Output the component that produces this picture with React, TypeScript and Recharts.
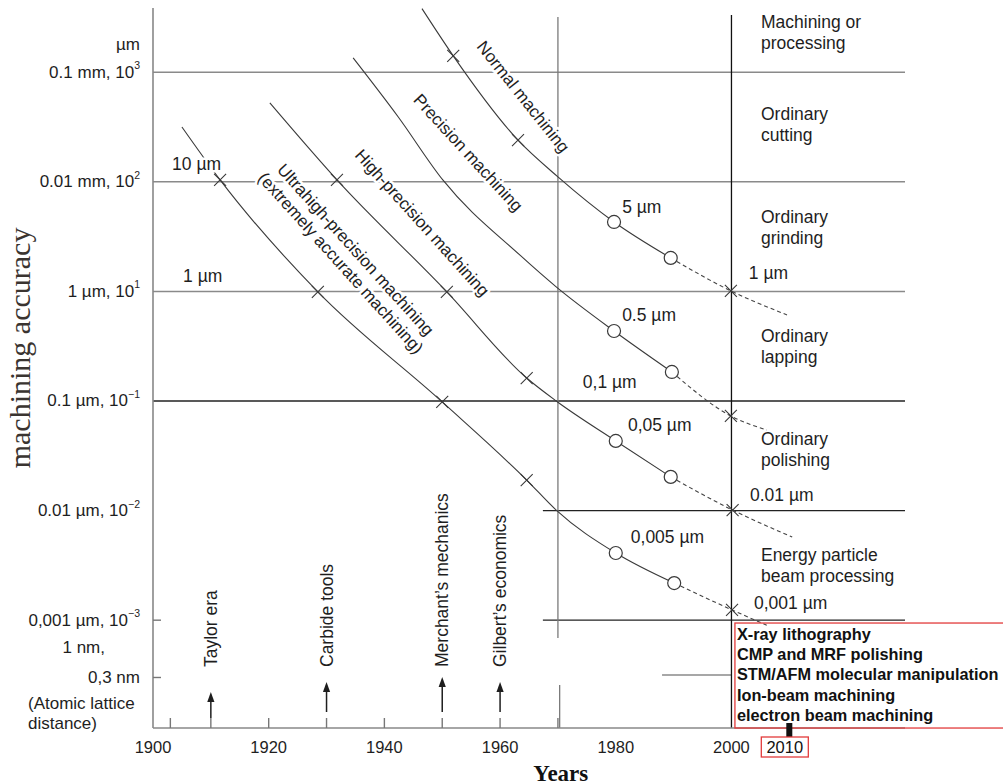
import React from 'react';
import { LineChart, Line, XAxis, YAxis, ReferenceLine, ReferenceDot } from 'recharts';

const SANS = '"Liberation Sans", Arial, Helvetica, sans-serif';
const SERIF = '"Liberation Serif", "Times New Roman", Times, serif';
const INK = '#1e1e1e';
const GREY = '#8a8a8a';
const CURVE = '#3a3a3a';
const RED = '#e23b3b';

// ---- axes ----
const yearDomain = [1900, 2030];
const accDomain = [0.0001038, 385.3];
const xTickValues = [1900, 1903, 1910, 1920, 1930, 1940, 1950, 1960, 1970, 1980, 2000, 2010];
const xLabelYears = [1900, 1920, 1940, 1960, 1980, 2000];
const xMinorTicks = [1903, 1910, 1920, 1930, 1940, 1950, 1960, 1970];
const highlightYear = 2010;
const yTickValues = [100, 10, 1, 0.1, 0.01, 0.001, 0.0003];
const yTickLabels = ['0.1 mm, 10', '0.01 mm, 10', '1 µm, 10', '0.1 µm, 10', '0.01 µm, 10', '0,001 µm, 10', '0,3 nm'];
const yTickExponents = ['3', '2', '1', '−1', '−2', '−3', ''];

// ---- curves (year, accuracy in µm) ----
const normalYears = [1946.5, 1951.9, 1963.1, 1970.0, 1979.7, 1989.5];
const normalAccuracy = [380, 141, 24.0, 11.1, 4.3, 2.02];
const normalMarks = ['', 'x', 'x', '', 'o', 'o'];
const normalTrendYears = [1989.5, 1999.9, 2009.6];
const normalTrendAccuracy = [2.02, 1.01, 0.61];
const normalTrendMarks = ['', 'x', ''];

const precisionYears = [1934.6, 1942.4, 1950.1, 1963.4, 1969.7, 1979.7, 1989.7];
const precisionAccuracy = [135, 39.0, 10.4, 2.15, 1.1, 0.435, 0.184];
const precisionMarks = ['', '', '', '', '', 'o', 'o'];
const precisionTrendYears = [1989.7, 1999.9, 2006.1];
const precisionTrendAccuracy = [0.184, 0.073, 0.0543];
const precisionTrendMarks = ['', 'x', ''];

const highYears = [1920.2, 1931.8, 1950.8, 1964.6, 1969.7, 1980.0, 1989.5];
const highAccuracy = [52.4, 10.4, 0.99, 0.162, 0.1, 0.0432, 0.0203];
const highMarks = ['', 'x', 'x', 'x', '', 'o', 'o'];
const highTrendYears = [1989.5, 2000.2, 2010.5];
const highTrendAccuracy = [0.0203, 0.0101, 0.00574];
const highTrendMarks = ['', 'x', ''];

const ultraYears = [1905.0, 1911.6, 1928.5, 1950.0, 1964.6, 1969.7, 1980.0, 1990.1];
const ultraAccuracy = [31.6, 10.4, 0.99, 0.098, 0.019, 0.0101, 0.0041, 0.00218];
const ultraMarks = ['', 'x', 'x', 'x', 'x', '', 'o', 'o'];
const ultraTrendYears = [1990.1, 2000.1, 2006.1];
const ultraTrendAccuracy = [0.00218, 0.00124, 0.0009];
const ultraTrendMarks = ['', 'x', ''];

// ---- annotations ----
const curveLabelText = [
  ['Normal machining'],
  ['Precision machining'],
  ['High-precision machining'],
  ['Ultrahigh-precision machining', '(extremely accurate machining)'],
];
const curveLabelYears = [1963.96, 1954.45, 1946.5, 1933.7];
const curveLabelDecades = [1.774, 1.263, 0.624, 0.318];
const curveLabelAngles = [51.5, 47.5, 48, 48];

const valueLabelText = ['5 µm', '0.5 µm', '0,1 µm', '0,05 µm', '0,005 µm', '1 µm', '0.01 µm', '0,001 µm', '10 µm', '1 µm'];
const valueLabelYears = [1981.1, 1981.1, 1974.3, 1982.1, 1982.6, 2003.0, 2003.2, 2003.9, 1903.3, 1905.2];
const valueLabelDecades = [0.77, -0.215, -0.827, -1.219, -2.241, 0.168, -1.858, -2.843, 1.162, 0.141];

const regionText = [
  ['Machining or', 'processing'],
  ['Ordinary', 'cutting'],
  ['Ordinary', 'grinding'],
  ['Ordinary', 'lapping'],
  ['Ordinary', 'polishing'],
  ['Energy particle', 'beam processing'],
];
const regionYear = 2005.1;
const regionDecades = [2.458, 1.619, 0.679, -0.407, -1.347, -2.405];

const eventYears = [1910, 1930, 1950, 1960];
const eventNames = ['Taylor era', 'Carbide tools', 'Merchant’s mechanics', 'Gilbert’s economics'];
const eventArrowTip = [36, 46, 51, 46];
const eventArrowBase = [10, 16, 16, 16];

const techLines = ['X-ray lithography', 'CMP and MRF polishing', 'STM/AFM molecular manipulation', 'Ion-beam machining', 'electron beam machining'];
const techBoxYear = 2000.6;
const techBoxDecade = -3.026;

const yTitleYear = 1877.0;
const yTitleDecade = -0.516;
const xTitleYear = 1970.5;

const series = (ys: number[], vs: number[], ms: string[]) =>
  ys.map((year, i) => ({ year, acc: vs[i], mark: ms[i] }));

const solidCurves = [
  series(normalYears, normalAccuracy, normalMarks),
  series(precisionYears, precisionAccuracy, precisionMarks),
  series(highYears, highAccuracy, highMarks),
  series(ultraYears, ultraAccuracy, ultraMarks),
];
const trendCurves = [
  series(normalTrendYears, normalTrendAccuracy, normalTrendMarks),
  series(precisionTrendYears, precisionTrendAccuracy, precisionTrendMarks),
  series(highTrendYears, highTrendAccuracy, highTrendMarks),
  series(ultraTrendYears, ultraTrendAccuracy, ultraTrendMarks),
];

const dec = (d: number) => Math.pow(10, d);

const halo = { stroke: '#fff', strokeWidth: 5, paintOrder: 'stroke' as any, strokeLinejoin: 'round' as any };
const annText = { fontFamily: SANS, fontSize: 17.5, fill: INK };
const yTickText = { fontFamily: SANS, fontSize: 17, fill: INK };
const xTickText = { fontFamily: SANS, fontSize: 16.5, fill: INK };
const curveText = { fontFamily: SANS, fontSize: 17, fill: INK };

const renderMark = (props: any) => {
  const { cx, cy, payload, index } = props;
  const key = `mk-${index}`;
  if (cx == null || cy == null || !payload) return <g key={key} />;
  if (payload.mark === 'x') {
    const s = 6;
    return (
      <path
        key={key}
        d={`M${cx - s},${cy - s}L${cx + s},${cy + s}M${cx - s},${cy + s}L${cx + s},${cy - s}`}
        stroke={CURVE}
        strokeWidth={1.1}
        fill="none"
      />
    );
  }
  if (payload.mark === 'o') {
    return <circle key={key} cx={cx} cy={cy} r={6.5} fill="#fff" stroke={CURVE} strokeWidth={1.2} />;
  }
  return <g key={key} />;
};

const XTick = (props: any) => {
  const { x, y, payload } = props;
  const v = payload.value;
  return (
    <g>
      {xMinorTicks.includes(v) && <line x1={x} x2={x} y1={y} y2={y - 10} stroke="#777" strokeWidth={1.4} />}
      {xLabelYears.includes(v) && (
        <text x={x} y={y + 19} textAnchor="middle" dominantBaseline="central" {...xTickText}>
          {v}
        </text>
      )}
      {v === highlightYear && (
        <g>
          <rect x={x - 3} y={y - 5} width={6} height={15} fill="#111" />
          <rect x={x - 28} y={y + 9} width={47} height={20} fill="#fff" stroke={RED} strokeWidth={1.3} />
          <text x={x - 4.5} y={y + 19} textAnchor="middle" dominantBaseline="central" {...xTickText} fill="#111">
            {v}
          </text>
        </g>
      )}
    </g>
  );
};

const YTick = (props: any) => {
  const { x, y, payload } = props;
  const v = payload.value;
  const i = yTickValues.indexOf(v);
  if (i < 0) return <g />;
  const axisX = x + 13;
  return (
    <g>
      <text x={x} y={y} textAnchor="end" dominantBaseline="central" {...yTickText}>
        {yTickLabels[i]}
        {yTickExponents[i] ? (
          <tspan dy={-7} fontSize={10.5}>
            {yTickExponents[i]}
          </tspan>
        ) : null}
      </text>
      {v === 100 && (
        <text x={x} y={y - 28} textAnchor="end" dominantBaseline="central" {...yTickText}>
          µm
        </text>
      )}
      {v === 0.001 && (
        <g>
          <line x1={axisX} x2={axisX + 8} y1={y} y2={y} stroke="#777" strokeWidth={1.4} />
          <text x={x - 35} y={y + 27} textAnchor="end" dominantBaseline="central" {...yTickText}>
            1 nm,
          </text>
        </g>
      )}
      {v === 0.0003 && (
        <g>
          <line x1={axisX} x2={axisX + 8} y1={y} y2={y} stroke="#777" strokeWidth={1.4} />
          <text x={x - 112} y={y + 26} textAnchor="start" dominantBaseline="central" {...yTickText}>
            (Atomic lattice
          </text>
          <text x={x - 112} y={y + 46} textAnchor="start" dominantBaseline="central" {...yTickText}>
            distance)
          </text>
        </g>
      )}
    </g>
  );
};

const curveLabelShape = (i: number) => (p: any) => (
  <g transform={`translate(${p.cx},${p.cy}) rotate(${curveLabelAngles[i]})`}>
    {curveLabelText[i].map((t, k) => (
      <text
        key={k}
        x={0}
        y={(k - (curveLabelText[i].length - 1) / 2) * 20}
        textAnchor="middle"
        dominantBaseline="central"
        {...curveText}
        {...halo}
      >
        {t}
      </text>
    ))}
  </g>
);

const valueLabelShape = (i: number) => (p: any) => (
  <text x={p.cx} y={p.cy} textAnchor="start" dominantBaseline="central" {...annText} {...halo}>
    {valueLabelText[i]}
  </text>
);

const regionShape = (i: number) => (p: any) => (
  <g>
    {regionText[i].map((t, k) => (
      <text key={k} x={p.cx} y={p.cy + k * 21} textAnchor="start" dominantBaseline="central" {...annText}>
        {t}
      </text>
    ))}
  </g>
);

const eventShape = (i: number) => (p: any) => {
  const { cx, cy } = p;
  const tip = cy - eventArrowTip[i];
  const base = cy - eventArrowBase[i];
  return (
    <g>
      <line x1={cx} x2={cx} y1={base} y2={tip + 8} stroke={INK} strokeWidth={1.5} />
      <path d={`M${cx},${tip}L${cx - 3.6},${tip + 10}L${cx + 3.6},${tip + 10}Z`} fill={INK} />
      <text transform={`translate(${cx + 6},${cy - 61}) rotate(-90)`} textAnchor="start" {...annText}>
        {eventNames[i]}
      </text>
    </g>
  );
};

const techShape = (p: any) => (
  <g>
    <rect x={p.cx} y={p.cy} width={270} height={105} fill="none" stroke={RED} strokeWidth={1.3} />
    {techLines.map((t, k) => (
      <text
        key={k}
        x={p.cx + 2}
        y={p.cy + 11 + k * 20.2}
        textAnchor="start"
        dominantBaseline="central"
        fontFamily={SANS}
        fontSize={16.3}
        fontWeight="bold"
        fill="#111"
      >
        {t}
      </text>
    ))}
  </g>
);

const yTitleShape = (p: any) => (
  <text
    transform={`translate(${p.cx},${p.cy}) rotate(-90)`}
    textAnchor="middle"
    dominantBaseline="central"
    fontFamily={SERIF}
    fontSize={30}
    fill="#3a3430"
  >
    machining accuracy
  </text>
);

const xTitleShape = (p: any) => (
  <text
    x={p.cx}
    y={p.cy + 45}
    textAnchor="middle"
    dominantBaseline="central"
    fontFamily={SERIF}
    fontSize={23}
    fontWeight="bold"
    fill="#111"
  >
    Years
  </text>
);

export default function App() {
  return (
    <div style={{ position: 'absolute', left: 0, top: 0, width: 1003, height: 784, background: '#fff' }}>
      <LineChart width={1003} height={784} margin={{ top: 8, right: 98, bottom: 0, left: 0 }}>
        <XAxis
          dataKey="year"
          type="number"
          domain={yearDomain}
          allowDataOverflow
          ticks={xTickValues}
          interval={0}
          tick={<XTick />}
          tickLine={false}
          tickSize={0}
          tickMargin={0}
          axisLine={{ stroke: '#888', strokeWidth: 1.6 }}
          height={56}
        />
        <YAxis
          dataKey="acc"
          type="number"
          scale="log"
          domain={accDomain}
          allowDataOverflow
          ticks={yTickValues}
          interval={0}
          tick={<YTick />}
          tickLine={false}
          tickSize={0}
          tickMargin={13}
          axisLine={{ stroke: '#888', strokeWidth: 1.6 }}
          width={153}
        />

        <ReferenceLine y={100} stroke={GREY} strokeWidth={1.5} />
        <ReferenceLine y={10} stroke={GREY} strokeWidth={1.5} />
        <ReferenceLine y={1} stroke={GREY} strokeWidth={1.5} />
        <ReferenceLine y={0.1} stroke="#222" strokeWidth={1.3} />
        <ReferenceLine segment={[{ x: 1967.4, y: 0.01 }, { x: 2030, y: 0.01 }]} stroke="#222" strokeWidth={1.3} />
        <ReferenceLine segment={[{ x: 1967.4, y: 0.001 }, { x: 2030, y: 0.001 }]} stroke="#222" strokeWidth={1.3} />
        <ReferenceLine segment={[{ x: 1988.0, y: 0.000316 }, { x: 2000, y: 0.000316 }]} stroke={GREY} strokeWidth={1.3} />
        <ReferenceLine segment={[{ x: 1970, y: dec(2.504) }, { x: 1970, y: dec(-3.162) }]} stroke="#7a7a7a" strokeWidth={1.3} />
        <ReferenceLine segment={[{ x: 1970.3, y: dec(-3.591) }, { x: 1970.3, y: accDomain[0] }]} stroke="#7a7a7a" strokeWidth={1.3} />
        <ReferenceLine segment={[{ x: 2000, y: dec(2.522) }, { x: 2000, y: accDomain[0] }]} stroke="#111" strokeWidth={1.3} />

        {trendCurves.map((d, i) => (
          <Line
            key={`t${i}`}
            data={d}
            dataKey="acc"
            type="monotone"
            stroke="#444"
            strokeWidth={1.1}
            strokeDasharray="4 3"
            dot={renderMark}
            activeDot={false}
            isAnimationActive={false}
          />
        ))}
        {solidCurves.map((d, i) => (
          <Line
            key={`s${i}`}
            data={d}
            dataKey="acc"
            type="monotone"
            stroke={CURVE}
            strokeWidth={1.1}
            dot={renderMark}
            activeDot={false}
            isAnimationActive={false}
          />
        ))}

        {curveLabelText.map((_, i) => (
          <ReferenceDot key={`cl${i}`} x={curveLabelYears[i]} y={dec(curveLabelDecades[i])} r={0} ifOverflow="visible" shape={curveLabelShape(i)} />
        ))}
        {valueLabelText.map((_, i) => (
          <ReferenceDot key={`vl${i}`} x={valueLabelYears[i]} y={dec(valueLabelDecades[i])} r={0} ifOverflow="visible" shape={valueLabelShape(i)} />
        ))}
        {regionText.map((_, i) => (
          <ReferenceDot key={`rg${i}`} x={regionYear} y={dec(regionDecades[i])} r={0} ifOverflow="visible" shape={regionShape(i)} />
        ))}
        {eventYears.map((yr, i) => (
          <ReferenceDot key={`ev${i}`} x={yr} y={accDomain[0]} r={0} ifOverflow="visible" shape={eventShape(i)} />
        ))}
        <ReferenceDot x={techBoxYear} y={dec(techBoxDecade)} r={0} ifOverflow="visible" shape={techShape} />
        <ReferenceDot x={yTitleYear} y={dec(yTitleDecade)} r={0} ifOverflow="visible" shape={yTitleShape} />
        <ReferenceDot x={xTitleYear} y={accDomain[0]} r={0} ifOverflow="visible" shape={xTitleShape} />
      </LineChart>
    </div>
  );
}
